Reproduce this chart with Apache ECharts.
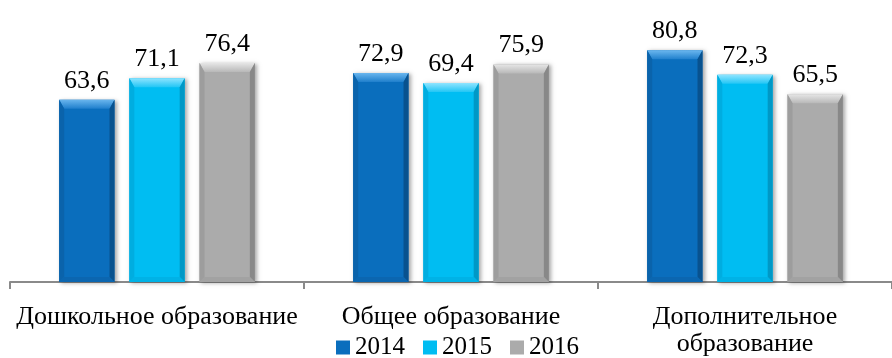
<!DOCTYPE html>
<html>
<head>
<meta charset="utf-8">
<script src="https://cdn.jsdelivr.net/npm/echarts@6/dist/echarts.min.js"></script>
<style>
  html, body { margin: 0; padding: 0; background: #fff; }
  #chart { width: 892px; height: 358px; }
</style>
</head>
<body>
<div id="chart"></div>
<script>
// Categories (the last one is wrapped onto two lines)
const categories = ['Дошкольное образование', 'Общее образование', 'Дополнительное\nобразование'];
const years = ['2014', '2015', '2016'];
const values2014 = [63.6, 72.9, 80.8];
const values2015 = [71.1, 69.4, 72.3];
const values2016 = [76.4, 75.9, 65.5];
const seriesValues = [values2014, values2015, values2016];

// Bevel palettes: face, top facet, side facets, bottom facet
const palettes = [
  { face: '#0a6ebd', top: ['#6ab6ee', '#1f7fcc'], left: '#0a63ab', right: '#08528f', bottom: '#0b66b0' },
  { face: '#00bdf2', top: ['#8fe4ff', '#22c6f5'], left: '#00ade0', right: '#0098c6', bottom: '#00b2e6' },
  { face: '#ababab', top: ['#e6e6e6', '#b8b8b8'], left: '#9d9d9d', right: '#888888', bottom: '#a2a2a2' }
];

const SERIF = '"Liberation Serif", "Times New Roman", serif';

function fmt(v) { return v.toFixed(1).replace('.', ','); }

function makeRenderer(si) {
  const p = palettes[si];
  return function (params, api) {
    const ci = api.value(0);
    const val = api.value(1);
    const base = api.coord([ci, 0]);
    const top = api.coord([ci, val]);
    const band = api.size([1, 0])[0];
    const w = band * 56 / 297.5;
    const step = band * 71 / 297.5;
    const cx = base[0] + (si - 1) * step;
    const x = cx - w / 2;
    const y = top[1];
    const h = base[1] - top[1];
    const s = 5, t = 9, bt = 5;
    return {
      type: 'group',
      children: [
        { type: 'rect', shape: { x: x, y: y, width: w, height: h },
          style: { fill: p.face, shadowBlur: 4, shadowOffsetX: 2, shadowOffsetY: 1, shadowColor: 'rgba(0,0,0,0.35)' } },
        { type: 'polygon', shape: { points: [[x, y], [x + w, y], [x + w - s, y + t], [x + s, y + t]] },
          style: { fill: new echarts.graphic.LinearGradient(0, 0, 0, 1, [
            { offset: 0, color: p.top[0] }, { offset: 1, color: p.top[1] }]) } },
        { type: 'polygon', shape: { points: [[x, y], [x + s, y + t], [x + s, y + h - bt], [x, y + h]] },
          style: { fill: p.left } },
        { type: 'polygon', shape: { points: [[x + w, y], [x + w - s, y + t], [x + w - s, y + h - bt], [x + w, y + h]] },
          style: { fill: p.right } },
        { type: 'polygon', shape: { points: [[x, y + h], [x + s, y + h - bt], [x + w - s, y + h - bt], [x + w, y + h]] },
          style: { fill: p.bottom } },
        { type: 'text',
          style: { text: fmt(val), x: cx, y: y - 6, align: 'center', verticalAlign: 'bottom',
                   fill: '#000', font: '26px ' + SERIF } }
      ]
    };
  };
}

const chart = echarts.init(document.getElementById('chart'), null, { renderer: 'canvas' });

chart.setOption({
  animation: false,
  grid: { left: 10, right: -10, top: 24, bottom: 75, containLabel: false },
  legend: {
    data: years.map(function (y) { return { name: y, icon: 'rect' }; }),
    left: 336, top: 335, padding: 0,
    itemWidth: 14, itemHeight: 14, itemGap: 18,
    textStyle: { fontFamily: SERIF, fontSize: 25, color: '#000', padding: [0, 0, 0, 0] }
  },
  xAxis: {
    type: 'category',
    data: categories,
    axisLine: { lineStyle: { color: '#8a8a8a', width: 2 } },
    axisTick: { show: true, length: 7, lineStyle: { color: '#8a8a8a', width: 2 } },
    axisLabel: { interval: 0, margin: 22, color: '#000', fontFamily: SERIF, fontSize: 26, lineHeight: 27 }
  },
  yAxis: { type: 'value', min: 0, max: 90, show: false, splitLine: { show: false } },
  series: years.map(function (y, si) {
    return {
      name: y,
      type: 'custom',
      itemStyle: { color: palettes[si].face },
      encode: { x: 0, y: 1 },
      data: seriesValues[si].map(function (v, i) { return [i, v]; }),
      renderItem: makeRenderer(si)
    };
  })
});
</script>
</body>
</html>
